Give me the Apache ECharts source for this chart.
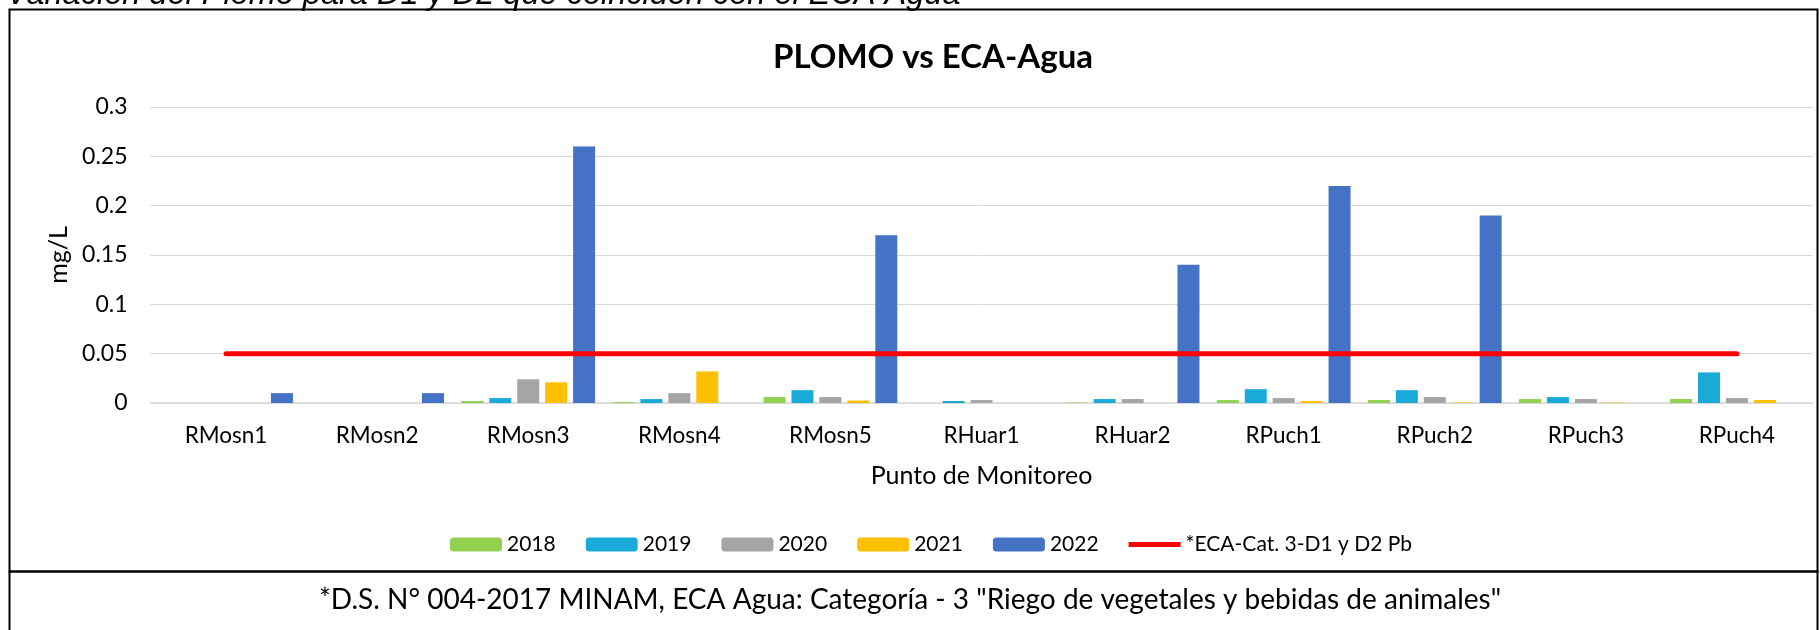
<!DOCTYPE html>
<html>
<head>
  <meta charset="UTF-8">
  <title>PLOMO vs ECA-Agua</title>
  <script src="https://cdn.jsdelivr.net/npm/echarts@6/dist/echarts.min.js"></script>
</head>
<body style="margin: 0; background: #fff;">
  <div id="main" style="width: 1820px; height: 630px;"></div>
  <script type="text/javascript">
    // puntos de monitoreo
    var puntos = ['RMosn1', 'RMosn2', 'RMosn3', 'RMosn4', 'RMosn5', 'RHuar1', 'RHuar2', 'RPuch1', 'RPuch2', 'RPuch3', 'RPuch4'];

    // concentracion de plomo (mg/L) por anio
    var pb2018 = [null, null, 0.002, 0.001, 0.006, null, 0.0005, 0.003, 0.003, 0.004, 0.004];
    var pb2019 = [null, null, 0.005, 0.004, 0.013, 0.002, 0.004, 0.014, 0.013, 0.006, 0.031];
    var pb2020 = [null, null, 0.024, 0.01, 0.006, 0.003, 0.004, 0.005, 0.006, 0.004, 0.005];
    var pb2021 = [null, null, 0.021, 0.032, 0.0025, null, null, 0.002, 0.0005, 0.0005, 0.003];
    var pb2022 = [0.01, 0.01, 0.26, null, 0.17, null, 0.14, 0.22, 0.19, null, null];
    var eca = [0.05, 0.05, 0.05, 0.05, 0.05, 0.05, 0.05, 0.05, 0.05, 0.05, 0.05];

    var yTicks = [0, 0.05, 0.1, 0.15, 0.2, 0.25, 0.3];

    var font = 'Lato';
    var myChart = echarts.init(document.getElementById('main'));

    function barra(nombre, datos, color) {
      return {
        name: nombre,
        type: 'bar',
        data: datos,
        barWidth: 22,
        barGap: '27%',
        itemStyle: { color: color }
      };
    }

    var option = {
      backgroundColor: '#fff',
      animation: false,
      textStyle: { fontFamily: font },
      title: {
        text: 'PLOMO vs ECA-Agua',
        left: 768,
        top: 36,
        textStyle: { fontFamily: font, fontSize: 33, fontWeight: 'bold', color: '#000' }
      },
      legend: {
        left: 445,
        top: 529,
        itemWidth: 52,
        itemHeight: 14,
        itemGap: 30,
        textStyle: { fontFamily: font, fontSize: 21, color: '#000' },
        data: [
          '2018', '2019', '2020', '2021', '2022',
          // linea fina sin simbolo en la leyenda
          { name: '*ECA-Cat. 3-D1 y D2 Pb', icon: 'path://M0,0M0,14M0,4.5L52,4.5L52,9.5L0,9.5Z' }
        ]
      },
      grid: {
        left: 150.5,
        right: 7.5,
        top: 107,
        bottom: 227,
        outerBoundsMode: 'none'
      },
      xAxis: {
        type: 'category',
        data: puntos,
        name: 'Punto de Monitoreo',
        nameLocation: 'middle',
        nameGap: 60,
        nameTextStyle: { fontFamily: font, fontSize: 25, color: '#000' },
        axisTick: { show: false },
        axisLine: { lineStyle: { color: '#D9D9D9', width: 1.5 } },
        axisLabel: { fontFamily: font, fontSize: 22.5, color: '#000', margin: 21 }
      },
      yAxis: {
        type: 'value',
        min: yTicks[0],
        max: yTicks[yTicks.length - 1],
        interval: 0.05,
        name: 'mg/L',
        nameLocation: 'middle',
        nameGap: 72,
        nameRotate: 90,
        nameTextStyle: { fontFamily: font, fontSize: 25, color: '#000' },
        axisLine: { show: false },
        axisTick: { show: false },
        axisLabel: {
          fontFamily: font, fontSize: 23, color: '#000', margin: 23,
          formatter: function (v) { return String(+v.toFixed(2)); }
        },
        splitLine: { lineStyle: { color: '#D9D9D9', width: 1 } }
      },
      series: [
        barra('2018', pb2018, '#92D050'),
        barra('2019', pb2019, '#1AAAD8'),
        barra('2020', pb2020, '#A5A5A5'),
        barra('2021', pb2021, '#FFC000'),
        barra('2022', pb2022, '#4472C4'),
        {
          name: '*ECA-Cat. 3-D1 y D2 Pb',
          type: 'line',
          data: eca,
          symbol: 'none',
          z: 5,
          itemStyle: { color: '#FF0000' },
          lineStyle: { color: '#FF0000', width: 5, cap: 'round' }
        }
      ],
      graphic: [
        {
          type: 'text',
          left: 6,
          top: -22,
          style: {
            text: 'Variación del Plomo para D1 y D2 que coinciden con el ECA Agua',
            font: 'italic 32.5px "Liberation Sans"',
            fill: '#000'
          }
        },
        {
          type: 'rect',
          shape: { x: 9.5, y: 9.5, width: 1808, height: 562 },
          style: { fill: null, stroke: '#000', lineWidth: 2 }
        },
        {
          type: 'rect',
          shape: { x: 9.5, y: 571.5, width: 1808, height: 80 },
          style: { fill: null, stroke: '#000', lineWidth: 2 }
        },
        {
          type: 'text',
          left: 'center',
          top: 586,
          style: {
            text: '*D.S. N° 004-2017 MINAM, ECA Agua: Categoría - 3 "Riego de vegetales y bebidas de animales"',
            font: '28px Lato',
            fill: '#000'
          }
        }
      ]
    };

    myChart.setOption(option);
  </script>
</body>
</html>
